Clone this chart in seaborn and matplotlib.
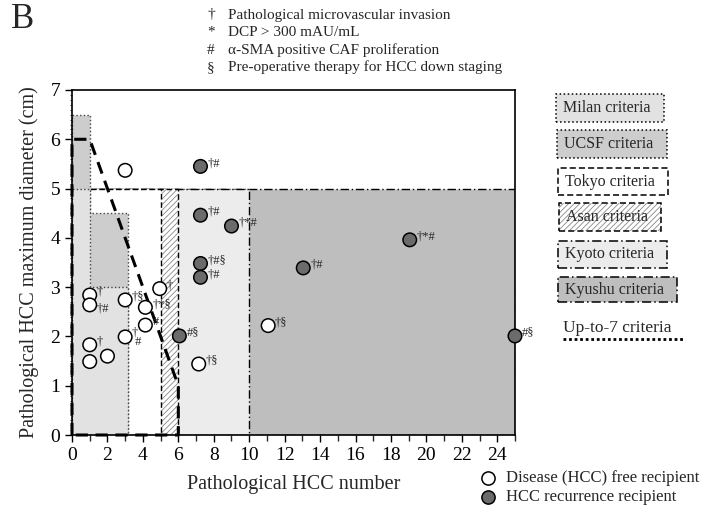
import matplotlib
matplotlib.use("Agg")
import matplotlib.pyplot as plt
import seaborn as sns
import pandas as pd
from matplotlib.patches import Rectangle, Polygon
from matplotlib.lines import Line2D

# ---------------- data ----------------
free_x = [3, 1, 1, 1, 1, 2, 3, 3, 4.14, 4.95, 4.14, 7.15, 11.07]
free_y = [5.37, 2.84, 2.64, 1.83, 1.49, 1.6, 2.74, 1.99, 2.59, 2.97, 2.23, 1.44, 2.22]
free_lab = ["", "†", "†#", "†", "", "", "†§", "†\n #", "†*§", "†", "#", "†§", "†§"]

rec_x = [7.25, 7.25, 9, 7.25, 7.25, 6.06, 13.05, 19.06, 25]
rec_y = [5.45, 4.46, 4.24, 3.48, 3.2, 2.01, 3.39, 3.96, 2.01]
rec_lab = ["†#", "†#", "†*#", "†#§", "†#", "#§", "†#", "†*#", "#§"]

x_ticks = list(range(0, 25, 2))
y_ticks = list(range(0, 8))

criteria_names = ["Milan criteria", "UCSF criteria", "Tokyo criteria",
                  "Asan criteria", "Kyoto criteria", "Kyushu criteria"]
footnotes = [("†", "Pathological microvascular invasion"),
             ("*", "DCP > 300 mAU/mL"),
             ("#", "α-SMA positive CAF proliferation"),
             ("§", "Pre-operative therapy for HCC down staging")]

df = pd.DataFrame({
    "x": free_x + rec_x,
    "y": free_y + rec_y,
    "group": ["free"] * len(free_x) + ["rec"] * len(rec_x),
    "label": free_lab + rec_lab,
})

# ---------------- style ----------------
sns.set_style("ticks")
plt.rcParams["font.family"] = ["Liberation Serif", "DejaVu Serif"]
plt.rcParams["hatch.linewidth"] = 0.6

W, H = 708, 516
fig = plt.figure(figsize=(W / 100, H / 100), dpi=100)
ax = fig.add_axes([72 / W, 1 - 435 / H, (515 - 72) / W, (435 - 90) / H])

c_milan = "#e2e2e2"
c_ucsf = "#cdcdcd"
c_kyoto = "#ececec"
c_kyushu = "#bebebe"

# regions (largest first)
ax.add_patch(Rectangle((0, 0), 25, 5, fc=c_kyushu, ec="black", lw=1.0,
                       ls=(0, (6, 2, 1, 2)), zorder=1))
ax.add_patch(Rectangle((0, 0), 10, 5, fc=c_kyoto, ec="black", lw=1.0,
                       ls=(0, (6, 2, 1, 2)), zorder=1.1))
ax.add_patch(Rectangle((0, 0), 6, 5, fc="white", ec="#888888", lw=0,
                       hatch="//////", zorder=1.2))
ax.add_patch(Rectangle((0, 0), 6, 5, fill=False, ec="black", lw=1.0,
                       ls=(0, (4, 2)), zorder=1.25))
ax.add_patch(Rectangle((0, 0), 5, 5, fc="white", ec="black", lw=1.0,
                       ls=(0, (4, 2)), zorder=1.3))
ax.add_patch(Polygon([(0, 0), (0, 6.5), (1, 6.5), (1, 4.5), (3.15, 4.5), (3.15, 0)],
                     closed=True, fc=c_ucsf, ec="#444444", lw=1.0, ls=":", zorder=1.4))
ax.add_patch(Polygon([(0, 0), (0, 5), (1, 5), (1, 3), (3.15, 3), (3.15, 0)],
                     closed=True, fc=c_milan, ec="#444444", lw=1.0, ls=":", zorder=1.5))

# up-to-7 criteria
ax.plot([0, 0, 1, 6, 6, 0], [0, 6, 6, 1, 0, 0], color="black", lw=2.2,
        ls=(0, (4, 2.5)), zorder=2, clip_on=False)

# points
sns.scatterplot(data=df, x="x", y="y", hue="group",
                palette={"free": "white", "rec": "#6b6b6b"},
                s=95, edgecolor="black", linewidth=1.1, legend=False,
                ax=ax, zorder=5, clip_on=False)

for i, (x, y, lab) in enumerate(zip(df["x"], df["y"], df["label"])):
    if not lab:
        continue
    fam = ["Liberation Serif", "DejaVu Sans"]
    if "\n" in lab:
        ax.annotate(lab, (x, y), xytext=(5, -8), textcoords="offset points",
                    fontsize=9, ha="left", va="bottom", linespacing=0.75,
                    family=fam, zorder=6)
    elif i == 2:
        ax.annotate(lab, (x, y), xytext=(5, -7), textcoords="offset points",
                    fontsize=9, ha="left", va="bottom", family=fam, zorder=6)
    else:
        ax.annotate(lab, (x, y), xytext=(5, -2), textcoords="offset points",
                    fontsize=9, ha="left", va="bottom", family=fam, zorder=6)

ax.set_xlim(0, 25)
ax.set_ylim(0, 7)
ax.set_xticks(x_ticks)
ax.set_xticks(range(0, 26), minor=True)
ax.set_yticks(y_ticks)
ax.set_yticks([i / 10 for i in range(0, 71)], minor=True)
ax.tick_params(axis="both", which="major", direction="out", length=5, width=1,
               labelsize=14, colors="black")
ax.tick_params(axis="x", which="minor", direction="out", length=4, width=1)
ax.tick_params(axis="y", which="minor", direction="out", length=1.5, width=0.6)
for sp in ax.spines.values():
    sp.set_visible(True)
    sp.set_linewidth(1.2)
    sp.set_color("black")
    sp.set_zorder(4)
ax.set_xlabel("Pathological HCC number", fontsize=14.5, labelpad=8)
ax.set_ylabel("Pathological HCC maximum diameter (cm)", fontsize=14.5, labelpad=8)

# ---------------- right legend boxes ----------------
def fx(px):
    return px / W

def fy(py):
    return 1 - py / H

boxes = [
    (556, 94, 664, 122, c_milan, ":", None),
    (557, 130, 667, 158, c_ucsf, ":", None),
    (558, 168, 668, 195, "white", (0, (4, 2)), None),
    (559, 203, 661, 231, "white", (0, (4, 2)), "//////"),
    (558, 241, 667, 268, c_kyoto, (0, (6, 2, 1, 2)), None),
    (558, 277, 677, 302, c_kyushu, (0, (6, 2, 1, 2)), None),
]
for name, (x0, y0, x1, y1, fc, ls, hatch) in zip(criteria_names, boxes):
    if hatch:
        fig.add_artist(Rectangle((fx(x0), fy(y1)), fx(x1 - x0), (y1 - y0) / H,
                                 transform=fig.transFigure, fc="white",
                                 ec="#888888", lw=0, hatch=hatch))
        fig.add_artist(Rectangle((fx(x0), fy(y1)), fx(x1 - x0), (y1 - y0) / H,
                                 transform=fig.transFigure, fill=False,
                                 ec="black", lw=1.1, ls=ls))
    else:
        fig.add_artist(Rectangle((fx(x0), fy(y1)), fx(x1 - x0), (y1 - y0) / H,
                                 transform=fig.transFigure, fc=fc,
                                 ec="black", lw=1.1, ls=ls))
    fig.text(fx(x0 + 7), fy((y0 + y1) / 2), name, fontsize=11.5,
             ha="left", va="center")

fig.text(fx(563), fy(328), "Up-to-7 criteria", fontsize=12.5, ha="left",
         va="center")
fig.add_artist(Line2D([fx(563), fx(684)], [fy(339), fy(339)],
                      transform=fig.transFigure, color="black", lw=2,
                      ls=(0, (1, 1))))

# symbol legend
for yy, fc, txt in [(478, "white", "Disease (HCC) free recipient"),
                    (497, "#6b6b6b", "HCC recurrence recipient")]:
    fig.add_artist(Line2D([fx(488)], [fy(yy)], transform=fig.transFigure,
                          marker="o", ms=9.5, mfc=fc, mec="black", mew=1.1,
                          ls="none"))
    fig.text(fx(506), fy(yy), txt, fontsize=12, ha="left", va="center")

# footnotes on top
for i, (sym, txt) in enumerate(footnotes):
    yy = 15 + i * 17.5
    fig.text(fx(211), fy(yy), sym, fontsize=11, ha="center", va="center",
             family=["Liberation Serif", "DejaVu Sans"])
    fig.text(fx(228), fy(yy), txt, fontsize=11, ha="left", va="center")

fig.text(fx(11), fy(20), "B", fontsize=25, ha="left", va="center")

fig.savefig("out.png", dpi=100)
